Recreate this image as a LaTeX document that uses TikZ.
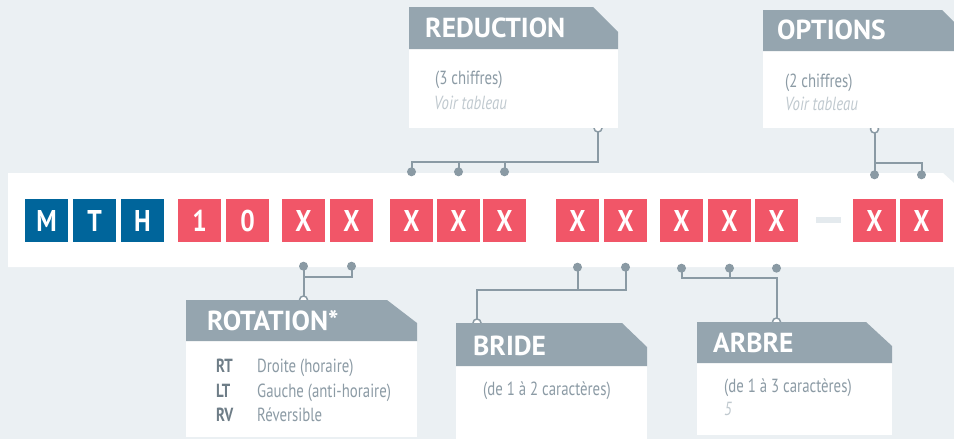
\documentclass[tikz,border=0pt]{standalone}
\usepackage{fontspec}
\setmainfont{PT Sans}
\newfontfamily\sqfont[FakeStretch=0.85]{PT Sans}
\newfontfamily\bodyfont[FakeStretch=0.78]{PT Sans}
\usetikzlibrary{calc}
\definecolor{bg}{RGB}{235,240,243}
\definecolor{hcol}{RGB}{149,165,175}
\definecolor{lcol}{RGB}{138,154,164}
\definecolor{tcol}{RGB}{140,155,165}
\definecolor{tlight}{RGB}{192,201,207}
\definecolor{ccol}{RGB}{110,125,135}
\definecolor{mblue}{RGB}{0,101,155}
\definecolor{mred}{RGB}{241,86,104}
\definecolor{dashc}{RGB}{228,234,238}
\begin{document}
\begin{tikzpicture}[x=1pt,y=-1pt,
 sq/.style={minimum size=43pt, inner sep=0pt, text=white, font=\sqfont\bfseries\fontsize{30}{30}\selectfont},
 bluesq/.style={sq, fill=mblue},
 redsq/.style={sq, fill=mred},
 conn/.style={draw=lcol, line width=2pt},
 dot/.style={circle, fill=lcol, inner sep=0pt, minimum size=9pt},
 ring/.style={circle, draw=lcol, fill=white, line width=1.5pt, inner sep=0pt, minimum size=8pt},
 hdr/.style={anchor=base west, inner sep=0pt, text=white, font=\bfseries\fontsize{27.5}{27.5}\selectfont},
 body/.style={anchor=base west, inner sep=0pt, text=tcol, font=\bodyfont\fontsize{19}{19}\selectfont},
 note/.style={body, text=tlight, font=\bodyfont\itshape\fontsize{19}{19}\selectfont},
 code/.style={body, text=ccol, font=\bodyfont\bfseries\fontsize{19}{19}\selectfont}
]
\useasboundingbox (0,0) rectangle (954,439);
\fill[bg] (0,0) rectangle (954,439);
% white band
\fill[white] (8,173) -- (943,173) -- (954,183) -- (954,267) -- (8,267) -- cycle;
% dash
\fill[dashc] (816,217) rectangle (841,223);

% squares
\node[bluesq] (m) at (46.5,220.5) {M};
\node[bluesq] (t) at (94.5,220.5) {T};
\node[bluesq] (h) at (142.5,220.5) {H};
\node[redsq] (n1) at (199.5,220.5) {1};
\node[redsq] (n0) at (247.5,220.5) {0};
\node[redsq] (a1) at (303.5,220.5) {X};
\node[redsq] (a2) at (351.5,220.5) {X};
\node[redsq] (b1) at (411.5,220.5) {X};
\node[redsq] (b2) at (458.5,220.5) {X};
\node[redsq] (b3) at (504.5,220.5) {X};
\node[redsq] (c1) at (577.5,220.5) {X};
\node[redsq] (c2) at (625.5,220.5) {X};
\node[redsq] (d1) at (681.5,220.5) {X};
\node[redsq] (d2) at (729.5,220.5) {X};
\node[redsq] (d3) at (776.5,220.5) {X};
\node[redsq] (e1) at (874.5,220.5) {X};
\node[redsq] (e2) at (921.5,220.5) {X};

% connector points
\coordinate (pb1) at ($(b1.north)+(0,-27)$);
\coordinate (pb2) at ($(b2.north)+(0,-27)$);
\coordinate (pb3) at ($(b3.north)+(0,-27)$);
\coordinate (rb) at (598,128);
\coordinate (pe1) at ($(e1.north)+(0,-24)$);
\coordinate (pe2) at ($(e2.north)+(0,-24)$);
\coordinate (re) at (e1.north |- 0,129);
\coordinate (pa1) at ($(a1.south)+(0,24)$);
\coordinate (pa2) at ($(a2.south)+(0,24)$);
\coordinate (ra) at (a1.south |- 0,300);
\coordinate (pc1) at ($(c1.south)+(0,25)$);
\coordinate (pc2) at ($(c2.south)+(0,25)$);
\coordinate (rc) at (477,323);
\coordinate (pd1) at ($(d1.south)+(0,26)$);
\coordinate (pd2) at ($(d2.south)+(0,26)$);
\coordinate (pd3) at ($(d3.south)+(0,26)$);
\coordinate (rd) at (d3.south |- 0,322);

% connectors
\draw[conn] (rb) -- (rb |- 0,162) -| (pb1);
\draw[conn] (pb2) -- (pb2 |- 0,162);
\draw[conn] (pb3) -- (pb3 |- 0,162);
\draw[conn] (re) -- (re |- 0,163) -| (pe2);
\draw[conn] (re |- 0,163) -- (pe1);
\draw[conn] (pa2) -- (pa2 |- 0,277) -| (ra);
\draw[conn] (pa1) -- (pa1 |- 0,277);
\draw[conn] (pc2) -- (pc2 |- 0,290) -| (rc);
\draw[conn] (pc1) -- (pc1 |- 0,290);
\draw[conn] (pd1) -- (pd1 |- 0,278) -| (rd);
\draw[conn] (pd2) -- (pd2 |- 0,278);

\foreach \r in {rb,re,ra,rc,rd} \node[ring] at (\r) {};
\foreach \p in {pb1,pb2,pb3,pe1,pe2,pa1,pa2,pc1,pc2,pd1,pd2,pd3} \node[dot] at (\p) {};

% REDUCTION callout
\fill[white] (409,49) rectangle (618,128);
\fill[hcol] (409,7) -- (593,7) -- (618,32) -- (618,49) -- (409,49) -- cycle;
\node[hdr] (redh) at (425,37) {REDUCTION};
\node[body] (redb) at (435,84) {(3 chiffres)};
\node[note] (redn) at (434,109) {Voir tableau};

% OPTIONS callout
\fill[white] (763,51) rectangle (954,128);
\fill[hcol] (763,10) -- (942,10) -- (954,22) -- (954,51) -- (763,51) -- cycle;
\node[hdr] (opth) at (777,39) {OPTIONS};
\node[body] (optb) at (785,87) {(2 chiffres)};
\node[note] (optn) at (785,110) {Voir tableau};

% ROTATION callout
\fill[white] (186,341) rectangle (417,437);
\fill[hcol] (186,300) -- (387,300) -- (417,323) -- (417,341) -- (186,341) -- cycle;
\node[hdr] (roth) at (207,330) {ROTATION*};
\node[code] (rt) at (216,372) {RT};
\node[body] (rtt) at (257,372) {Droite (horaire)};
\node[code] (lt) at (216,397) {LT};
\node[body] (ltt) at (257,397) {Gauche (anti-horaire)};
\node[code] (rv) at (216,421) {RV};
\node[body] (rvt) at (257,421) {Réversible};

% BRIDE callout
\fill[white] (456,366) rectangle (647,439);
\fill[hcol] (456,323) -- (622,323) -- (647,347) -- (647,366) -- (456,366) -- cycle;
\node[hdr] (brh) at (473,355) {BRIDE};
\node[body] (brb) at (483,395) {(de 1 à 2 caractères)};

% ARBRE callout
\fill[white] (697,363) rectangle (892,435);
\fill[hcol] (697,322) -- (866,322) -- (892,346) -- (892,363) -- (697,363) -- cycle;
\node[hdr] (arh) at (713,352) {ARBRE};
\node[body] (arb) at (724,392) {(de 1 à 3 caractères)};
\node[note] (arn) at (724,415) {5};
\end{tikzpicture}
\end{document}
